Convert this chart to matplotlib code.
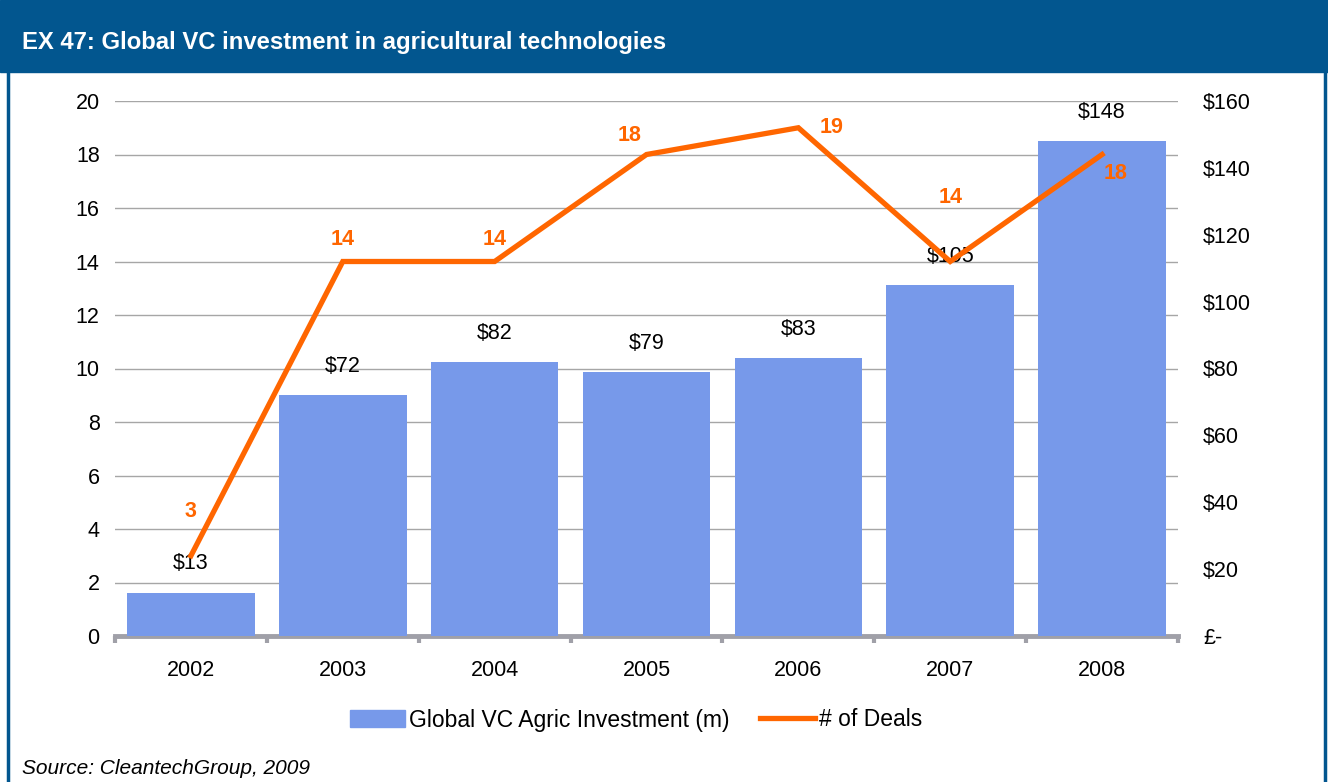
import matplotlib
matplotlib.use("Agg")
import matplotlib.pyplot as plt
from matplotlib.patches import Rectangle
from matplotlib.lines import Line2D

plt.rcParams["font.family"] = ["Liberation Sans", "DejaVu Sans"]

years = ["2002", "2003", "2004", "2005", "2006", "2007", "2008"]
investment = [13, 72, 82, 79, 83, 105, 148]
deals = [3, 14, 14, 18, 19, 14, 18]
left_ticks = [0, 2, 4, 6, 8, 10, 12, 14, 16, 18, 20]
right_ticks = [0, 20, 40, 60, 80, 100, 120, 140, 160]
right_labels = ["£-", "$20", "$40", "$60", "$80", "$100", "$120", "$140", "$160"]
# label offsets (points) for the deal counts
deal_offsets = [(0, 32), (0, 16), (0, 16), (-12, 14), (24, 0), (0, 46), (10, -14)]

BLUE = "#02568F"
BAR = "#7799EA"
ORANGE = "#FF6600"
FS = 15.5

fig = plt.figure(figsize=(13.28, 7.82), dpi=100)

# header bar and frame
fig.patches.append(Rectangle((0, 1 - 72 / 782), 1, 72 / 782, transform=fig.transFigure,
                             color=BLUE, zorder=0))
fig.add_artist(Line2D([8 / 1328, 8 / 1328], [0, 1], color=BLUE, lw=2.5))
fig.add_artist(Line2D([1325 / 1328, 1325 / 1328], [0, 1], color=BLUE, lw=2.5))
fig.text(22 / 1328, 1 - 42 / 782, "EX 47: Global VC investment in agricultural technologies",
         color="white", fontsize=17.2, fontweight="bold", va="center", ha="left")

ax = fig.add_axes([115 / 1328, 1 - 636 / 782, (1178 - 115) / 1328, (636 - 101) / 782])
ax2 = ax.twinx()

x = list(range(len(years)))

# bars on the right axis
ax2.bar(x, investment, width=0.84, color=BAR, zorder=2)
ax2.set_ylim(0, 160)
ax2.set_yticks(right_ticks)
ax2.set_yticklabels(right_labels)
for xi, v in zip(x, investment):
    ax2.annotate("$%d" % v, (xi, v), xytext=(0, 13), textcoords="offset points",
                 ha="center", va="bottom", fontsize=FS, color="black")

# gridlines on left axis
ax.set_ylim(0, 20)
ax.set_xlim(-0.5, 6.5)
ax.set_yticks(left_ticks)
for t in left_ticks[1:]:
    ax.axhline(t, color="#A6A6A6", lw=1, zorder=0)

# line drawn on another twin so it sits above the bars, scaled to left axis
ax3 = ax.twinx()
ax3.set_ylim(0, 20)
ax3.set_yticks([])
ax3.plot(x, deals, color=ORANGE, lw=3.8, solid_joinstyle="miter", zorder=5)
for xi, d, off in zip(x, deals, deal_offsets):
    ax3.annotate(str(d), (xi, d), xytext=off, textcoords="offset points",
                 ha="center", va="center", fontsize=FS, fontweight="bold", color=ORANGE)
ax3.set_xlim(-0.5, 6.5)

for a in (ax, ax2, ax3):
    for s in a.spines.values():
        s.set_visible(False)
    a.tick_params(length=0)

ax.set_zorder(0)
ax2.set_zorder(1)
ax3.set_zorder(2)
ax.patch.set_visible(False)

ax.spines["bottom"].set_visible(True)
ax.spines["bottom"].set_color("#A0A0A8")
ax.spines["bottom"].set_linewidth(3.5)
ax.spines["bottom"].set_zorder(10)
ax.set_xticks(x)
ax.set_xticklabels(years)
ax.set_xticks([i - 0.5 for i in range(len(years) + 1)], minor=True)
ax.tick_params(axis="x", which="minor", length=5, width=3, color="#A0A0A8", direction="out")
ax.tick_params(axis="x", which="major", length=0, pad=17, labelsize=FS)
ax.tick_params(axis="y", labelsize=FS, pad=11)
ax2.tick_params(axis="y", labelsize=FS, pad=18)

# legend
handles = [Rectangle((0, 0), 1, 1, color=BAR),
           Line2D([], [], color=ORANGE, lw=3.8)]
fig.legend(handles, ["Global VC Agric Investment (m)", "# of Deals"],
           loc="center", bbox_to_anchor=(636 / 1328, 1 - 720 / 782), ncol=2,
           frameon=False, fontsize=16.5, handlelength=2.4, handletextpad=0.2,
           columnspacing=1.3)

fig.text(22 / 1328, 1 - 768 / 782, "Source: CleantechGroup, 2009", fontsize=15,
         style="italic", va="center", ha="left")

fig.savefig("out.png", dpi=100)
